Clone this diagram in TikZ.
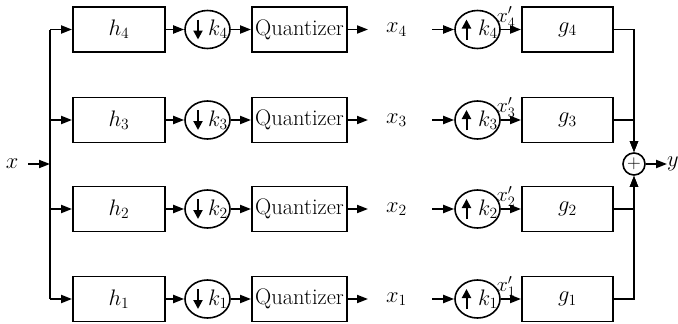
\RequirePackage{fix-cm}
\documentclass[tikz,border=0pt]{standalone}
\usetikzlibrary{arrows.meta,shapes.geometric}
\newcommand\bt[1]{\scalebox{1.3}{#1}}
\begin{document}
\begin{tikzpicture}[x=1pt,y=1pt,
  lw/.style={line width=1.9pt},
  arr/.style={lw,-{Triangle[length=11pt,width=8pt]}},
  inarr/.style={line width=2pt,-{Triangle[length=9pt,width=9pt]}},
  box/.style={draw,lw,rectangle,minimum height=45pt,inner sep=0pt,font=\fontsize{17.28}{20}\selectfont},
  rs/.style={draw,line width=1.6pt,ellipse,minimum width=45pt,minimum height=38pt,inner sep=0pt},
  lab/.style={inner sep=0pt,font=\fontsize{17.28}{20}\selectfont}]
\useasboundingbox (0,0) rectangle (678,-324);
\node[lab] (x) at (12,-164) {\bt{$x$}};
\coordinate (xin) at (28,-164);
\coordinate (jin) at (50,-164);
\coordinate (jt) at (50,-29.5);
\coordinate (jb) at (50,-299);
\draw[arr] (xin) -- (jin);
\draw[lw] (jt) -- (jb);
\node[draw,line width=1.6pt,circle,minimum size=22pt,inner sep=0pt,font=\fontsize{17.28}{20}\selectfont] (s) at (634,-164) {\scalebox{1.1}{$+$}};
\node[lab] (y) at (673,-164) {\bt{$y$}};
\draw[arr] (s.east) -- (y.west);
\foreach \i/\y in {4/-29.5,3/-120,2/-209,1/-299} {
  \node[box,minimum width=92pt] (h\i) at (119,\y) {\bt{$h_\i$}};
  \node[rs] (d\i) at (207.5,\y) {};
  \node[lab] (dk\i) at (218,\y) {\bt{$k_\i$}};
  \draw[inarr] ([shift={(-9.5,10)}]d\i.center) -- ([shift={(-9.5,-10)}]d\i.center);
  \node[box,minimum width=95pt] (q\i) at (299.5,\y) {\bt{Quantizer}};
  \coordinate (qo\i) at (368,\y);
  \node[lab] (xx\i) at (396.5,\y) {\bt{$x_\i$}};
  \coordinate (ui\i) at (432,\y);
  \node[rs] (u\i) at (477.5,\y) {};
  \node[lab] (uk\i) at (488,\y) {\bt{$k_\i$}};
  \draw[inarr] ([shift={(-11,-10)}]u\i.center) -- ([shift={(-11,10)}]u\i.center);
  \node[lab] (xp\i) at (506,\y+12.5) {\scalebox{1.2}{$x'_\i$}};
  \node[box,minimum width=91pt] (g\i) at (567.5,\y) {\bt{$g_\i$}};
  \draw[arr] (h\i.west -| jin) -- (h\i.west);
  \draw[arr] (h\i.east) -- (d\i.west);
  \draw[arr] (d\i.east) -- (q\i.west);
  \draw[arr] (q\i.east) -- (qo\i);
  \draw[arr] (ui\i) -- (u\i.west);
  \draw[arr] (u\i.east) -- (g\i.west);
}
\draw[arr] (g4.east) -| (s.north);
\draw[arr] (g3.east) -| (s.north);
\draw[arr] (g2.east) -| (s.south);
\draw[arr] (g1.east) -| (s.south);
\end{tikzpicture}
\end{document}
